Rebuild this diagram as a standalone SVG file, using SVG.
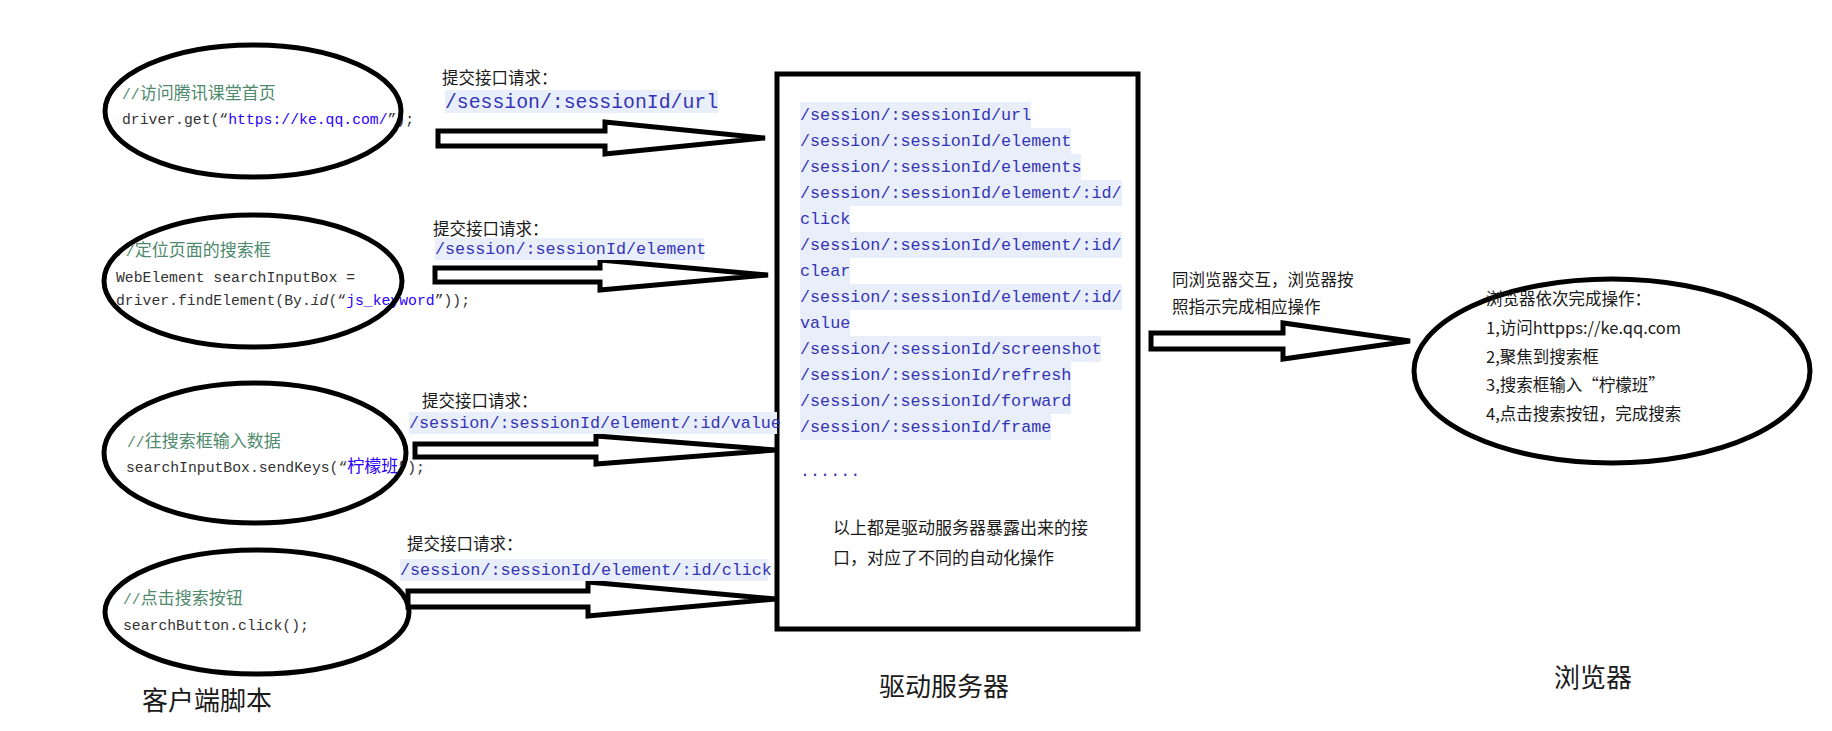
<svg xmlns="http://www.w3.org/2000/svg" width="1832" height="731" viewBox="0 0 1832 731">
<style>
.cn{font-family:"Noto Sans CJK SC","Liberation Sans",sans-serif;fill:#1a1a1a}
.code{font-family:"Liberation Mono","Noto Sans CJK SC",monospace;font-size:14.75px;fill:#333}
.cm{font-family:"Noto Sans CJK SC",sans-serif;font-size:17px;fill:#4f8a6d}
.cms{font-family:"Liberation Mono",monospace;font-size:14.75px;fill:#4f8a6d}
.str{fill:#2a00ff}
.ses{font-family:"Liberation Mono",monospace;font-size:16.75px;fill:#3535b5}
.hl{fill:#e8eefa}
.ell{fill:none;stroke:#000;stroke-width:5}
.arr{fill:#fff;stroke:#000;stroke-width:5;stroke-linejoin:miter}
</style>
<rect width="1832" height="731" fill="#fff"/>

<g id="client1">
<text x="122" y="99"><tspan class="cms">//</tspan><tspan class="cm">访问腾讯课堂首页</tspan></text>
<text class="code" x="122" y="124">driver.get(“<tspan class="str">https://ke.qq.com/</tspan>”);</text>
<ellipse class="ell" cx="253" cy="111" rx="148" ry="66"/>
</g>

<g id="client2">
<text x="117" y="256"><tspan class="cms">//</tspan><tspan class="cm">定位页面的搜索框</tspan></text>
<text class="code" x="116" y="282">WebElement searchInputBox =</text>
<text class="code" x="116" y="305">driver.findElement(By.<tspan font-style="italic">id</tspan>(“<tspan class="str">js_keyword</tspan>”));</text>
<ellipse class="ell" cx="253" cy="281" rx="149" ry="66"/>
</g>

<g id="client3">
<text x="127" y="447"><tspan class="cms">//</tspan><tspan class="cm">往搜索框输入数据</tspan></text>
<text class="code" x="126" y="472">searchInputBox.sendKeys(“<tspan class="str" font-family="Noto Sans CJK SC" font-size="17px">柠檬班</tspan>”);</text>
<ellipse class="ell" cx="255" cy="453" rx="151" ry="70"/>
</g>

<g id="client4">
<text x="123" y="604"><tspan class="cms">//</tspan><tspan class="cm">点击搜索按钮</tspan></text>
<text class="code" x="123" y="630">searchButton.click();</text>
<ellipse class="ell" cx="257" cy="612" rx="152" ry="62"/>
</g>

<g id="client-label"><text class="cn" x="142" y="710" font-size="26px">客户端脚本</text></g>

<g id="driver">
<rect x="777" y="74" width="361" height="555" fill="#fff" stroke="#000" stroke-width="5"/>
<g class="hl">
<rect x="800" y="102" width="231" height="26"/>
<rect x="800" y="128" width="271" height="26"/>
<rect x="800" y="154" width="281" height="26"/>
<rect x="800" y="180" width="322" height="26"/>
<rect x="800" y="206" width="50" height="26"/>
<rect x="800" y="232" width="322" height="26"/>
<rect x="800" y="258" width="50" height="26"/>
<rect x="800" y="284" width="322" height="26"/>
<rect x="800" y="310" width="50" height="26"/>
<rect x="800" y="336" width="301" height="26"/>
<rect x="800" y="362" width="271" height="26"/>
<rect x="800" y="388" width="271" height="26"/>
<rect x="800" y="414" width="251" height="26"/>
</g>
<text class="ses" x="800" y="120">/session/:sessionId/url</text>
<text class="ses" x="800" y="146">/session/:sessionId/element</text>
<text class="ses" x="800" y="172">/session/:sessionId/elements</text>
<text class="ses" x="800" y="198">/session/:sessionId/element/:id/</text>
<text class="ses" x="800" y="224">click</text>
<text class="ses" x="800" y="250">/session/:sessionId/element/:id/</text>
<text class="ses" x="800" y="276">clear</text>
<text class="ses" x="800" y="302">/session/:sessionId/element/:id/</text>
<text class="ses" x="800" y="328">value</text>
<text class="ses" x="800" y="354">/session/:sessionId/screenshot</text>
<text class="ses" x="800" y="380">/session/:sessionId/refresh</text>
<text class="ses" x="800" y="406">/session/:sessionId/forward</text>
<text class="ses" x="800" y="432">/session/:sessionId/frame</text>
<text class="ses" x="800" y="476" fill="#222">......</text>
<text class="cn" x="833" y="534" font-size="17px">以上都是驱动服务器暴露出来的接</text>
<text class="cn" x="833" y="564" font-size="17px">口，对应了不同的自动化操作</text>
</g>

<g id="driver-label"><text class="cn" x="879" y="696" font-size="26px">驱动服务器</text></g>

<g id="browser">
<ellipse class="ell" cx="1612" cy="371" rx="198" ry="92"/>
<text class="cn" x="1486" y="305" font-size="16.5px">浏览器依次完成操作：</text>
<text class="cn" x="1486" y="334" font-size="16.5px">1,访问httpps://ke.qq.com</text>
<text class="cn" x="1486" y="363" font-size="16.5px">2,聚焦到搜索框</text>
<text class="cn" x="1486" y="391" font-size="16.5px">3,搜索框输入“柠檬班”</text>
<text class="cn" x="1486" y="420" font-size="16.5px">4,点击搜索按钮，完成搜索</text>
</g>

<g id="browser-label"><text class="cn" x="1554" y="687" font-size="26px">浏览器</text></g>

<g id="connectors">
<polygon class="arr" points="438,131 605,131 605,122 765,138 605,154 605,146 438,146"/>
<polygon class="arr" points="435,268 600,268 600,260 768,275 600,290 600,282 435,282"/>
<polygon class="arr" points="415,444 596,444 596,436 776,450 596,464 596,457 415,457"/>
<polygon class="arr" points="408,591 588,591 588,582 776,599 588,616 588,607 408,607"/>
<polygon class="arr" points="1151,333 1283,333 1283,323 1410,341 1283,359 1283,349 1151,349"/>
<text class="cn" x="442" y="84" font-size="16.5px">提交接口请求：</text>
<rect class="hl" x="445" y="90" width="273" height="23"/>
<text font-family="Liberation Mono,monospace" font-size="19.8px" fill="#3535b5" x="445" y="108">/session/:sessionId/url</text>
<text class="cn" x="433" y="235" font-size="16.5px">提交接口请求：</text>
<rect class="hl" x="435" y="238" width="269" height="22"/>
<text class="ses" x="435" y="254" font-size="16.6px">/session/:sessionId/element</text>
<text class="cn" x="422" y="407" font-size="16.5px">提交接口请求：</text>
<rect class="hl" x="409" y="412" width="368" height="22"/>
<text class="ses" x="409" y="428" font-size="16.6px">/session/:sessionId/element/:id/value</text>
<text class="cn" x="407" y="550" font-size="16.5px">提交接口请求：</text>
<rect class="hl" x="400" y="559" width="368" height="22"/>
<text class="ses" x="400" y="575" font-size="16.6px">/session/:sessionId/element/:id/click</text>
<text class="cn" x="1172" y="286" font-size="16.5px">同浏览器交互，浏览器按</text>
<text class="cn" x="1172" y="313" font-size="16.5px">照指示完成相应操作</text>
</g>
</svg>
